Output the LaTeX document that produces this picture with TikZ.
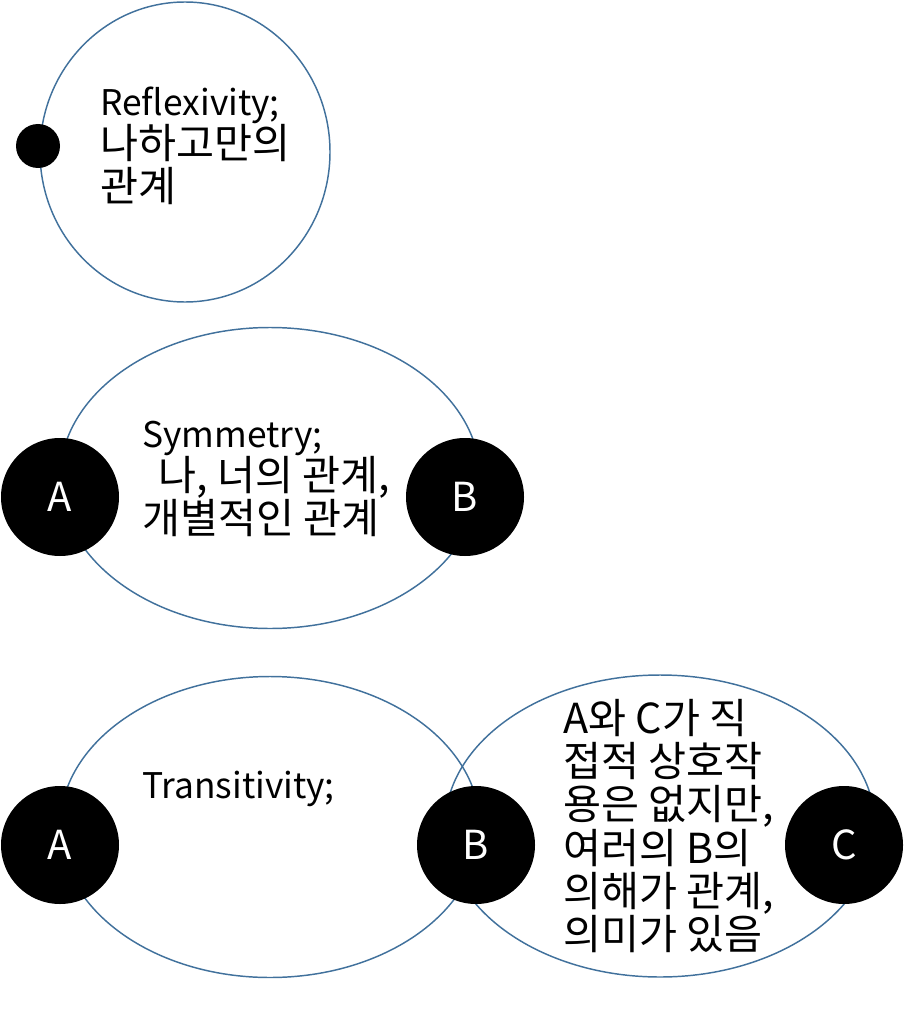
\documentclass[tikz,border=0pt]{standalone}
\usepackage{fontspec}
\setmainfont{Noto Sans CJK KR}
\usetikzlibrary{positioning,shapes.geometric}

\definecolor{ringblue}{HTML}{41719C}

% Latin words are set a little smaller than the Hangul
\newcommand{\en}[1]{{\fontsize{26.5}{32.3}\selectfont #1}}

\tikzset{
    ring/.style={draw=ringblue,line width=1.1pt,ellipse,inner sep=0pt},
    member/.style={circle,fill=black,text=white,inner sep=0pt,minimum size=88.5pt,font=\fontsize{30}{32}\selectfont},
    label text/.style={align=left,inner sep=0pt,anchor=west,font=\fontsize{31}{32.3}\selectfont}
}

\begin{document}
\begin{tikzpicture}[x=0.75pt,y=-0.75pt]
        \useasboundingbox (0,0) rectangle (904,1020);

        %%%% Reflexivity ================================
        \begin{scope}
            % Ring
            \node[ring,minimum width=217.5pt,minimum height=225pt] (reflring) at (185, 152) {};

            % Member
            \node[circle,fill=black,inner sep=0pt,minimum size=33pt] (reflme) at (38, 146) {};

            % Text
            \node[label text] (refltext) at (100, 146) {\en{Reflexivity;}\\나하고만의\\관계};
        \end{scope}

        %%%% Symmetry ===================================
        \begin{scope}
            % Ring
            \node[ring,minimum width=315pt,minimum height=225.75pt] (symring) at (270, 478) {};

            % Members
            \node[member] (symA) at (60, 497) {A};
            \node[member] (symB) at (465, 497) {B};

            % Text
            \node[label text] (symtext) at (142, 479) {\en{Symmetry;}\\\hspace*{12pt}나, 너의 관계,\\개별적인 관계};
        \end{scope}

        %%%% Transitivity ===============================
        \begin{scope}
            % Rings
            \node[ring,minimum width=315pt,minimum height=225.75pt] (transring1) at (270, 827) {};
            \node[ring,minimum width=322.5pt,minimum height=226.5pt] (transring2) at (660, 826) {};

            % Members
            \node[member] (transA) at (60, 845) {A};
            \node[member] (transB) at (476, 845) {B};
            \node[member] (transC) at (844, 845) {C};

            % Text
            \node[label text] (transtext) at (142, 789) {\en{Transitivity;}};
            \node[label text] (transnote) at (563, 826) {A와 C가 직\\접적 상호작\\용은 없지만,\\여러의 B의\\의해가 관계,\\의미가 있음};
        \end{scope}
    \end{tikzpicture}
\end{document}
